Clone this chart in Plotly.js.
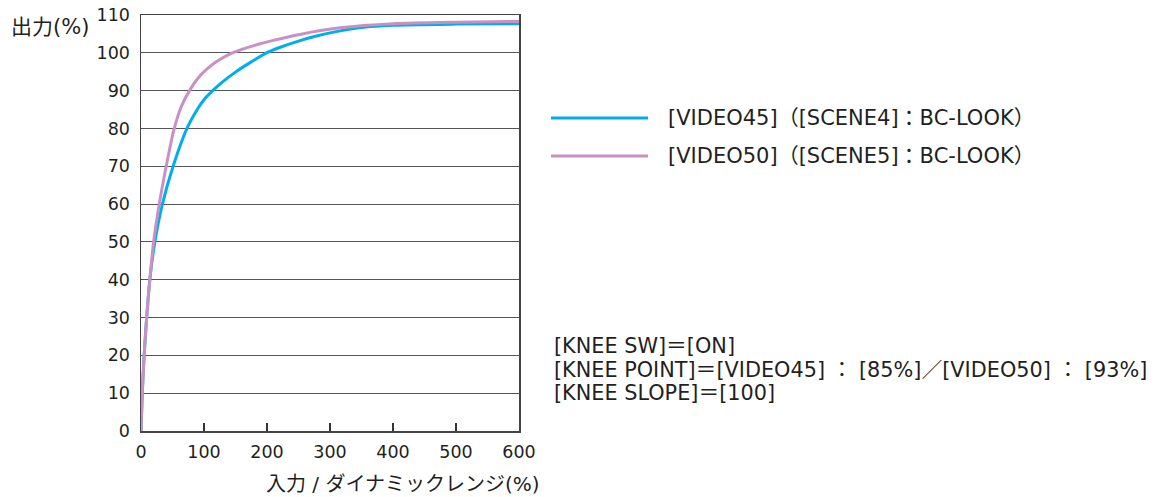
<!DOCTYPE html>
<html><head><meta charset="utf-8">
<script src="https://cdn.plot.ly/plotly-3.0.1.min.js"></script>
<style>body{margin:0;background:#fff}#chart{width:1156px;height:497px}</style>
</head><body><div id="chart"></div>
<script>
const xVideo45 = [0, 2, 5, 9, 14, 22, 34, 51, 73, 90, 100, 115, 130, 150, 175, 197, 220, 250, 280, 316, 350, 400, 500, 600];
const yVideo45 = [0, 10, 20, 30, 40, 50, 60, 70, 80, 85.2, 87.6, 90.2, 92.4, 94.9, 97.6, 99.8, 101.4, 103.1, 104.5, 105.8, 106.7, 107.3, 107.6, 107.7];
const xVideo50 = [0, 2, 5, 9, 14, 20, 29, 40, 52, 64, 77, 90, 104, 120, 140, 160, 185, 210, 250, 316, 400, 500, 600];
const yVideo50 = [0, 10, 20, 30, 40, 50, 60, 70, 79.5, 85.8, 90, 93.2, 95.6, 97.7, 99.6, 100.9, 102.2, 103.3, 104.8, 106.6, 107.7, 108.1, 108.3];
const seriesNames = ["[VIDEO45]（[SCENE4]：BC-LOOK）", "[VIDEO50]（[SCENE5]：BC-LOOK）"];
const noteLines = ["[KNEE SW]＝[ON]", "[KNEE POINT]＝[VIDEO45] ： [85%]／[VIDEO50] ： [93%]", "[KNEE SLOPE]＝[100]"];
const xTicks = [0, 100, 200, 300, 400, 500, 600];
const yTicks = [0, 10, 20, 30, 40, 50, 60, 70, 80, 90, 100, 110];
const colors = ["#00aeea", "#c990c4"];
const fontFam = "DejaVu Sans, Noto Sans CJK JP, sans-serif";
const txtColor = "#231f20";

const traces = [
  {x: xVideo45, y: yVideo45, name: seriesNames[0], mode: "lines", line: {color: colors[0], width: 3, shape: "spline", smoothing: 0.7}, showlegend: false},
  {x: xVideo50, y: yVideo50, name: seriesNames[1], mode: "lines", line: {color: colors[1], width: 3, shape: "spline", smoothing: 0.7}, showlegend: false}
];

const L = 141, T = 15, W = 378, H = 416;
const px = p => (p - L) / W;
const py = p => (T + H - p) / H;

const annotations = [
  {xref: "paper", yref: "paper", x: px(9), y: py(27), xanchor: "left", yanchor: "middle", showarrow: false, text: "出力(%)", font: {size: 21, color: txtColor}},
  {xref: "paper", yref: "paper", x: px(542), y: py(484), xanchor: "right", yanchor: "middle", showarrow: false, text: "入力 / ダイナミックレンジ(%)", font: {size: 20, color: txtColor}},
  {xref: "paper", yref: "paper", x: px(666), y: py(118), xanchor: "left", yanchor: "middle", showarrow: false, text: seriesNames[0], font: {size: 21, color: txtColor}},
  {xref: "paper", yref: "paper", x: px(666), y: py(156), xanchor: "left", yanchor: "middle", showarrow: false, text: seriesNames[1], font: {size: 21, color: txtColor}}
];
const noteY = [346, 369.5, 393];
noteLines.forEach((t, i) => annotations.push({xref: "paper", yref: "paper", x: px(552), y: py(noteY[i]), xanchor: "left", yanchor: "middle",
  showarrow: false, text: t, font: {size: 20.8, color: txtColor}}));

const layout = {
  width: 1156, height: 497,
  margin: {l: L, r: 1156 - L - W, t: T, b: 497 - T - H, pad: 0},
  paper_bgcolor: "#fff", plot_bgcolor: "#fff",
  font: {family: fontFam, color: txtColor, size: 17.5},
  xaxis: {range: [0, 600], tickvals: xTicks, ticktext: xTicks.map(String), ticks: "inside", ticklen: 8, tickcolor: "#333", tickwidth: 1.5,
          showgrid: false, zeroline: false, showline: true, linecolor: "#444", linewidth: 1.5, mirror: true,
          ticklabelstandoff: 4, tickfont: {size: 17.5, color: txtColor}, fixedrange: true},
  yaxis: {range: [0, 110], tickvals: yTicks, ticktext: yTicks.map(String), ticks: "", showgrid: true, gridcolor: "#555", gridwidth: 1,
          zeroline: false, showline: true, linecolor: "#444", linewidth: 1.5, mirror: true,
          ticklabelstandoff: 6, tickfont: {size: 17.5, color: txtColor}, fixedrange: true},
  shapes: [
    {type: "line", xref: "paper", yref: "paper", x0: px(551), x1: px(648), y0: py(118), y1: py(118), line: {color: colors[0], width: 3}},
    {type: "line", xref: "paper", yref: "paper", x0: px(551), x1: px(648), y0: py(156), y1: py(156), line: {color: colors[1], width: 3}}
  ],
  annotations: annotations
};

Plotly.newPlot("chart", traces, layout, {staticPlot: true, displayModeBar: false});
</script></body></html>
